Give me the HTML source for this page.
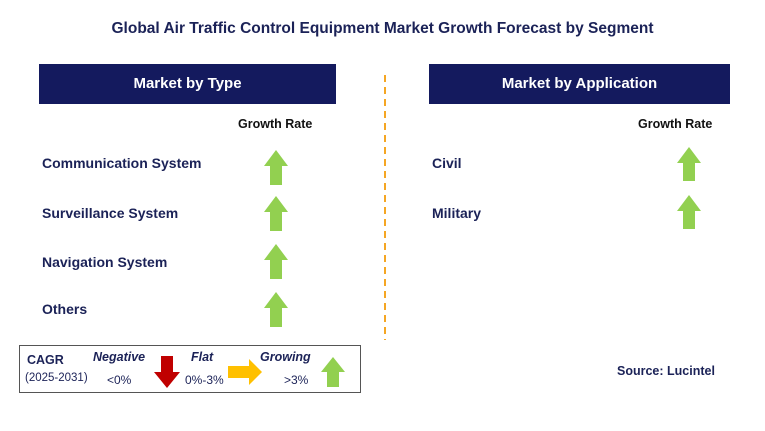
<!DOCTYPE html>
<html><head><meta charset="utf-8"><style>
body{margin:0;width:765px;height:431px;background:#fff;position:relative;font-family:"Liberation Sans",Arial,sans-serif;overflow:hidden}
.a{position:absolute}
.t{font-weight:bold;color:#1b2257;font-size:14px}
.hdr{background:#141a5e;color:#fff;font-weight:bold;font-size:15px;text-align:center;line-height:40px;height:40px}
.gr{font-weight:bold;font-size:12.5px;color:#111}
</style></head><body>
<div class="a" style="left:0;width:765px;top:20px;text-align:center;font-weight:bold;font-size:15.5px;color:#1b2257">Global Air Traffic Control Equipment Market Growth Forecast by Segment</div>
<div class="a hdr" style="left:39px;top:64px;width:297px">Market by Type</div>
<div class="a hdr" style="left:429px;top:64px;width:301px">Market by Application</div>
<div class="a gr" style="left:238px;top:117px">Growth Rate</div>
<div class="a gr" style="left:638px;top:117px">Growth Rate</div>
<svg class="a" style="left:0;top:0" width="765" height="431">
<line x1="385" y1="75" x2="385" y2="340" stroke="#f5a623" stroke-width="2" stroke-dasharray="7,5"/>
<g fill="#92d050">
<polygon points="276,150 288,166 282,166 282,185 270,185 270,166 264,166"/>
<polygon points="276,196 288,212 282,212 282,231 270,231 270,212 264,212"/>
<polygon points="276,244 288,260 282,260 282,279 270,279 270,260 264,260"/>
<polygon points="276,292 288,308 282,308 282,327 270,327 270,308 264,308"/>
<polygon points="689,147 701,163 695,163 695,181 683,181 683,163 677,163"/>
<polygon points="689,195 701,211 695,211 695,229 683,229 683,211 677,211"/>
</g>
</svg>
<div class="a t" style="left:42px;top:155px">Communication System</div>
<div class="a t" style="left:42px;top:205px">Surveillance System</div>
<div class="a t" style="left:42px;top:254px">Navigation System</div>
<div class="a t" style="left:42px;top:301px">Others</div>
<div class="a t" style="left:432px;top:155px">Civil</div>
<div class="a t" style="left:432px;top:205px">Military</div>
<div class="a" style="left:19px;top:345px;width:340px;height:46px;border:1px solid #555"></div>
<div class="a" style="left:27px;top:353px;font-weight:bold;font-size:12.5px;color:#1b2257">CAGR</div>
<div class="a" style="left:25px;top:372px;font-size:11.5px;color:#1b2257">(2025-2031)</div>
<div class="a" style="left:93px;top:350px;font-weight:bold;font-style:italic;font-size:12.5px;color:#1b2257">Negative</div>
<div class="a" style="left:107px;top:373px;font-size:12px;color:#1b2257">&lt;0%</div>
<div class="a" style="left:191px;top:350px;font-weight:bold;font-style:italic;font-size:12.5px;color:#1b2257">Flat</div>
<div class="a" style="left:185px;top:373px;font-size:12px;color:#1b2257">0%-3%</div>
<div class="a" style="left:260px;top:350px;font-weight:bold;font-style:italic;font-size:12.5px;color:#1b2257">Growing</div>
<div class="a" style="left:284px;top:373px;font-size:12px;color:#1b2257">&gt;3%</div>
<svg class="a" style="left:0;top:0" width="765" height="431">
<polygon fill="#c00000" points="161,356 173,356 173,372 180,372 167,388 154,372 161,372"/>
<polygon fill="#ffc000" points="228,366 249,366 249,359 262,372 249,385 249,378 228,378"/>
<polygon fill="#92d050" points="333,357 345,372 339,372 339,387 327,387 327,372 321,372"/>
</svg>
<div class="a" style="left:617px;top:364px;font-weight:bold;font-size:12.5px;color:#1b2257">Source: Lucintel</div>
</body></html>
